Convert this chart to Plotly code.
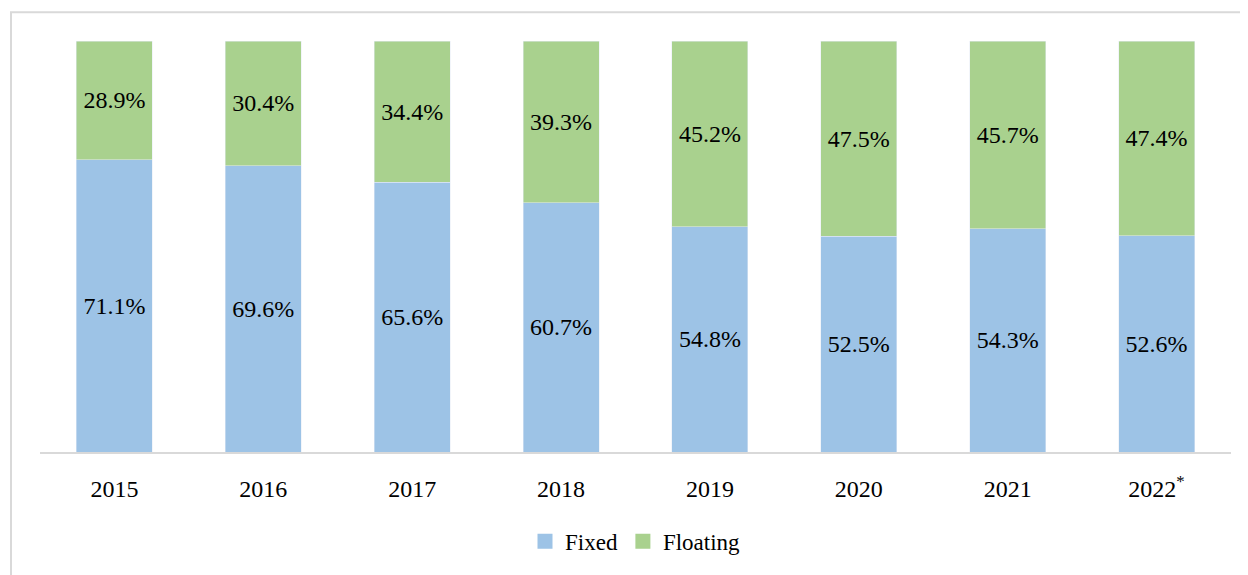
import plotly.graph_objects as go

years = ["2015", "2016", "2017", "2018", "2019", "2020", "2021", "2022<sup>*</sup>"]
fixed = [71.1, 69.6, 65.6, 60.7, 54.8, 52.5, 54.3, 52.6]
floating = [28.9, 30.4, 34.4, 39.3, 45.2, 47.5, 45.7, 47.4]

FONT = "Liberation Serif"
BLUE, GREEN = "#9dc3e6", "#a9d18e"
# page puts the figure 8px in from the top-left corner
W, H = 1240, 567
L, R, T, B = 32, 17, 33, 118

fig = go.Figure()
for name, vals, col in [("Fixed", fixed, BLUE), ("Floating", floating, GREEN)]:
    fig.add_trace(go.Bar(
        x=years, y=vals, name=name, marker_color=col, showlegend=False,
        text=[f"{v:.1f}%" for v in vals], textposition="inside",
        insidetextanchor="middle", textangle=0,
        textfont=dict(family=FONT, size=24, color="black"),
    ))
# legend entries with bigger square swatches
for name, col in [("Fixed", BLUE), ("Floating", GREEN)]:
    fig.add_trace(go.Scatter(
        x=[None], y=[None], mode="markers", name=name,
        marker=dict(symbol="square", size=15, color=col),
    ))

# light grey frame of the chart box, cut off at right and bottom
pw = W - L - R
ph = H - T - B
fig.add_shape(type="rect", xref="paper", yref="paper",
              x0=(3 - L) / pw, x1=1.2, y0=-0.6, y1=(H - B - 4) / ph,
              line=dict(color="#d9d9d9", width=2), layer="below")

fig.update_layout(
    width=W, height=H,
    margin=dict(l=L, r=R, t=T, b=B),
    barmode="stack", bargap=0.49,
    plot_bgcolor="white", paper_bgcolor="white",
    font=dict(family=FONT, size=24, color="black"),
    showlegend=True,
    legend=dict(orientation="h", x=0.5, xanchor="center", y=-0.217, yanchor="middle",
                font=dict(size=23), itemwidth=30, traceorder="normal"),
    xaxis=dict(showline=True, linecolor="#d9d9d9", linewidth=2, showgrid=False,
               ticks="", ticklabelstandoff=14, tickfont=dict(size=24)),
    yaxis=dict(range=[0, 100], visible=False, showgrid=False),
)

fig.write_html("out.html")
